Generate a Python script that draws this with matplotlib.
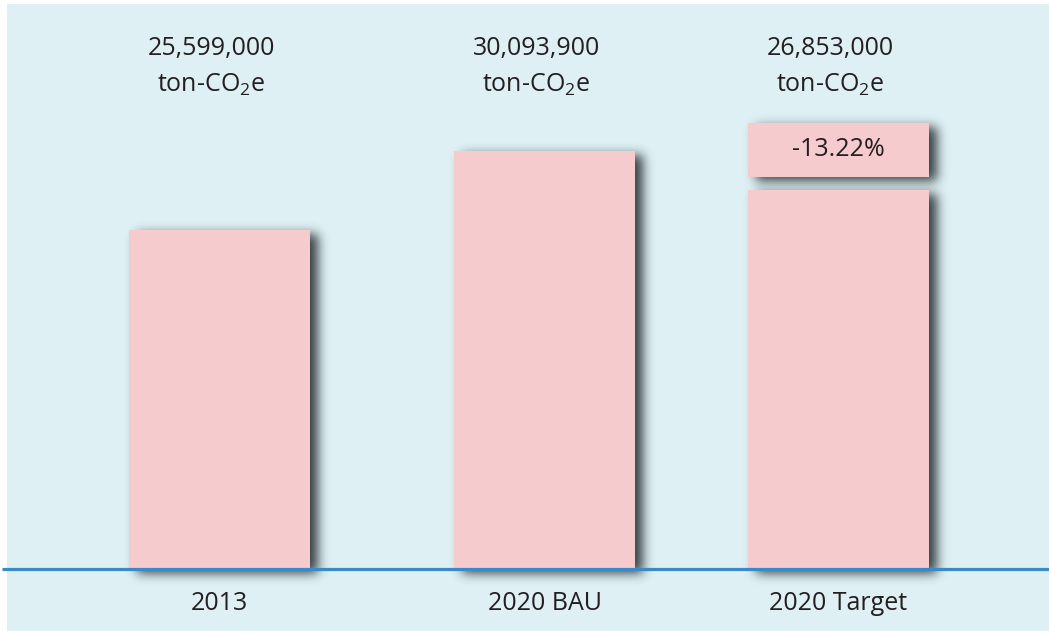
import numpy as np
import matplotlib
matplotlib.use('Agg')
import matplotlib.pyplot as plt
from matplotlib.patches import Rectangle

plt.rcParams['font.family'] = ['Open Sans', 'DejaVu Sans']
plt.rcParams['mathtext.fontset'] = 'custom'
plt.rcParams['mathtext.rm'] = 'Open Sans'

# data
categories = ['2013', '2020 BAU', '2020 Target']
emissions = [25599000, 30093900, 26853000]
unit = 'ton-CO$_{\\mathrm{2}}$e'
# bar heights as drawn in the picture (not to scale with emissions)
bar_heights = [339, 418, 379]
reduction_label = '-13.22%'
reduction_gap = 13
reduction_box = 54

# layout (pixel units, baseline at y=0)
W, H = 1049, 631
base_row = 569
x_pos = [219.5, 544.5, 838.5]
bar_w = 181
bg = '#def0f4'
pink = '#f5cbcd'
txt = '#231f20'
fs = 18

fig = plt.figure(figsize=(W / 100, H / 100), dpi=100)
fig.patch.set_facecolor('white')
ax = fig.add_axes([0, 0, 1, 1])
ax.set_xlim(0, W)
ax.set_ylim(base_row - H, base_row)
ax.axis('off')

ax.add_patch(Rectangle((7, base_row - H), W - 7, H - 4, facecolor=bg,
                       edgecolor='none', zorder=0))

# rectangles to draw (bars + reduction box)
rects = [(x, 0, h) for x, h in zip(x_pos, bar_heights)]
box_bottom = bar_heights[2] + reduction_gap
rects.append((x_pos[2], box_bottom, reduction_box))

# blurred drop shadow
mask = np.zeros((H, W))
dx, dy = 8, 4
for x, b, h in rects:
    c0 = int(round(x - bar_w / 2)) + dx
    c1 = int(round(x + bar_w / 2)) + dx
    r0 = int(round(base_row - (b + h))) + dy
    r1 = int(round(base_row - b)) + dy
    mask[max(r0, 0):min(r1, H), max(c0, 0):min(c1, W)] = 1.0
sigma = 5.5
k = np.arange(-18, 19)
kern = np.exp(-k ** 2 / (2 * sigma ** 2))
kern /= kern.sum()
mask = np.apply_along_axis(lambda m: np.convolve(m, kern, mode='same'), 0, mask)
mask = np.apply_along_axis(lambda m: np.convolve(m, kern, mode='same'), 1, mask)
shadow = np.zeros((H, W, 4))
shadow[..., 0] = 0.1
shadow[..., 1] = 0.13
shadow[..., 2] = 0.14
shadow[..., 3] = mask * 0.85
ax.imshow(shadow, extent=(0, W, base_row - H, base_row), origin='upper',
          interpolation='nearest', zorder=1, aspect='auto')

ax.bar(x_pos, bar_heights, width=bar_w, color=pink, zorder=2)
ax.bar([x_pos[2]], [reduction_box], bottom=[box_bottom], width=bar_w,
       color=pink, zorder=2)

ax.plot([2, W], [0, 0], color='#3a8bc5', lw=2.3, zorder=3,
        solid_capstyle='butt')

for x, v, lab in zip(x_pos, emissions, categories):
    ax.text(x - 8, base_row - 49, f'{v:,}', ha='center', va='center',
            fontsize=fs, color=txt, zorder=4)
    ax.text(x - 8, base_row - 85, unit, ha='center', va='center',
            fontsize=fs, color=txt, zorder=4)
    ax.text(x, -34, lab, ha='center', va='center', fontsize=fs,
            color=txt, zorder=4)

ax.text(x_pos[2], box_bottom + reduction_box / 2, reduction_label,
        ha='center', va='center', fontsize=fs, color=txt, zorder=4)

fig.savefig('out.png', dpi=100, facecolor='white')
